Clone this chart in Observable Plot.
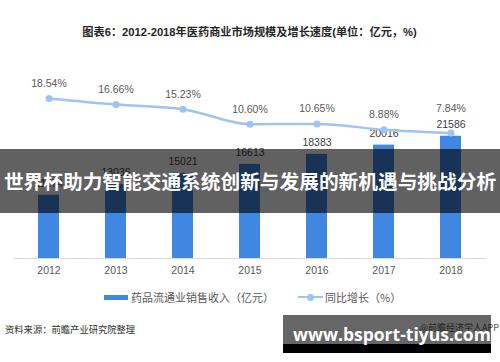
<!DOCTYPE html>
<html>
<head>
<meta charset="utf-8">
<script src="https://cdn.jsdelivr.net/npm/d3@7"></script>
<script src="https://cdn.jsdelivr.net/npm/@observablehq/plot@0.6"></script>
<style>
  html, body { margin: 0; padding: 0; background: #fff; }
  #wrap { position: relative; width: 500px; height: 362px; overflow: hidden; background: #fff;
          font-family: "Liberation Sans", "Noto Sans CJK SC", sans-serif; }
  .abs { position: absolute; }
  #title { left: 0; width: 499px; top: 23px; text-align: center; font-size: 11.2px; font-weight: bold; color: #262626;
           font-family: "Liberation Sans", "Noto Sans CJK SC", sans-serif; white-space: nowrap; line-height: 18px; }
  .leg { font-size: 11px; color: #595959; line-height: 14px; white-space: nowrap; font-family: "Noto Sans CJK SC", sans-serif; }
  #banner { left: 0; top: 149px; width: 500px; height: 64px; background: rgba(0,0,0,0.62); color: #fff;
            font-family: "Noto Sans CJK SC", sans-serif; font-weight: bold; font-size: 19.7px; line-height: 64px;
            text-align: center; white-space: nowrap; }
  #source { left: 5px; top: 322px; font-size: 9.3px; color: #333; line-height: 14px; white-space: nowrap; font-family: "Noto Sans CJK SC", sans-serif; }
  #app { right: 1px; top: 321px; font-size: 9px; color: #555; line-height: 14px; white-space: nowrap; font-family: "Noto Sans CJK SC", sans-serif; }
  #wmgray { left: 283px; top: 315px; width: 208px; height: 29px; background: rgba(0,0,0,0.6); }
  #wmblack { left: 283px; top: 344px; width: 208px; height: 8.5px; background: #000; }
  #wmtext { left: 293px; top: 322px; font-family: "Open Sans", sans-serif; font-weight: bold; font-size: 17.5px; color: #fff;
            line-height: 24px; white-space: nowrap; }
</style>
</head>
<body>
<div id="wrap">
  <div id="title" class="abs">图表6：2012-2018年医药商业市场规模及增长速度(单位：亿元，%)</div>
  <div id="plotBars" class="abs" style="left:0;top:0"></div>
  <div id="plotLine" class="abs" style="left:0;top:0"></div>
  <div id="legend"></div>
  <div id="source" class="abs">资料来源：前瞻产业研究院整理</div>
  <div id="app" class="abs">@前瞻经济学人APP</div>
  <div id="banner" class="abs">世界杯助力智能交通系统创新与发展的新机遇与挑战分析</div>
  <div id="wmgray" class="abs"></div>
  <div id="wmblack" class="abs"></div>
  <div id="wmtext" class="abs">www.bsport-tiyus.com</div>
</div>
<script>
const years = ["2012", "2013", "2014", "2015", "2016", "2017", "2018"];
const sales = [11174, 13036, 15021, 16613, 18383, 20016, 21586];
const growth = [18.54, 16.66, 15.23, 10.60, 10.65, 8.88, 7.84];
const seriesNames = ["药品流通业销售收入（亿元）", "同比增长（%）"];

const barColor = "#3f87e0";
const lineColor = "#9ec4f2";

const data = years.map((y, i) => ({year: y, sales: sales[i], growth: growth[i]}));
const lastYear = years[years.length - 1];

const xOpts = {type: "band", domain: years, paddingInner: 0.68, paddingOuter: 0.34};

const bars = Plot.plot({
  width: 500, height: 285,
  marginLeft: 13.5, marginRight: 14, marginTop: 116.4, marginBottom: 27,
  style: {background: "transparent", fontFamily: "Liberation Sans, sans-serif", fontSize: "10.5px", color: "#595959"},
  x: {...xOpts, tickSize: 0, tickPadding: 8, label: null},
  y: {domain: [0, 25000], axis: null},
  marks: [
    Plot.barY(data, {x: "year", y: "sales", fill: barColor}),
    Plot.ruleY([0], {stroke: "#d9d9d9", strokeWidth: 1}),
    Plot.text(data, {x: "year", y: "sales", text: d => String(d.sales), dy: -12, fill: "#404040", fontSize: 10.5})
  ]
});
document.getElementById("plotBars").appendChild(bars);

const line = Plot.plot({
  width: 500, height: 285,
  marginLeft: 13.5, marginRight: 14, marginTop: 93.2, marginBottom: 127,
  style: {background: "transparent", fontFamily: "Liberation Sans, sans-serif", fontSize: "10.5px"},
  x: {...xOpts, axis: null},
  y: {domain: [0, 20], axis: null},
  marks: [
    Plot.line(data, {x: "year", y: "growth", stroke: lineColor, strokeWidth: 2.5, curve: "monotone-x"}),
    Plot.dot(data, {x: "year", y: "growth", r: 3.5, fill: lineColor, stroke: "none"}),
    Plot.text(data.filter(d => d.year !== lastYear), {x: "year", y: "growth", text: d => d.growth.toFixed(2) + "%", dy: -15, fill: "#595959", fontSize: 10.5}),
    Plot.text(data.filter(d => d.year === lastYear), {x: "year", y: "growth", text: d => d.growth.toFixed(2) + "%", dy: -24, fill: "#595959", fontSize: 10.5})
  ]
});
document.getElementById("plotLine").appendChild(line);

// legend
const leg = document.getElementById("legend");
leg.innerHTML = `
  <div class="abs" style="left:104px;top:294.5px;width:24px;height:5px;background:${barColor}"></div>
  <div class="abs leg" style="left:131px;top:290px">${seriesNames[0]}</div>
  <div class="abs" style="left:298px;top:295.8px;width:25px;height:2.5px;background:${lineColor}"></div>
  <div class="abs" style="left:306.5px;top:293.5px;width:7px;height:7px;border-radius:50%;background:${lineColor}"></div>
  <div class="abs leg" style="left:325px;top:290px">${seriesNames[1]}</div>
`;
</script>
</body>
</html>
